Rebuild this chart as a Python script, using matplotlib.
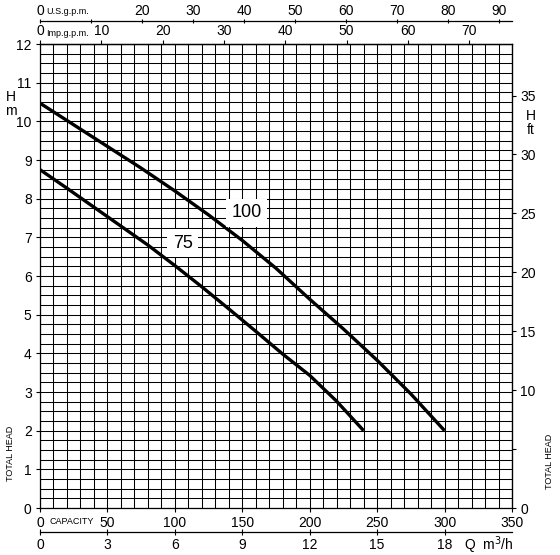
import numpy as np
import matplotlib
matplotlib.use("Agg")
import matplotlib.pyplot as plt
import matplotlib.transforms as mtransforms

plt.rcParams['font.family'] = ['Liberation Sans', 'DejaVu Sans']

# capacity in l/min, head in m
q_100 = [0, 25, 50, 75, 100, 125, 150, 175, 200, 225, 250, 275, 300]
h_100 = [10.47, 9.91, 9.35, 8.79, 8.20, 7.58, 6.92, 6.20, 5.40, 4.63, 3.82, 2.95, 2.0]
q_75 = [0, 20, 40, 60, 80, 100, 120, 140, 160, 180, 200, 220, 240]
h_75 = [8.75, 8.27, 7.78, 7.29, 6.80, 6.27, 5.72, 5.15, 4.57, 3.98, 3.43, 2.76, 2.0]
curve_names = ["100", "75"]
label_pos = [(153, 7.63), (106, 6.85)]

lmin_ticks = [0, 50, 100, 150, 200, 250, 300, 350]
m3h_ticks = [0, 3, 6, 9, 12, 15, 18]
usgpm_ticks = [0, 10, 20, 30, 40, 50, 60, 70, 80, 90]
impgpm_ticks = [0, 10, 20, 30, 40, 50, 60, 70]
ft_ticks = [0, 5, 10, 15, 20, 25, 30, 35]

FS = 10

fig = plt.figure(figsize=(5.6, 5.55), dpi=100)
ax = fig.add_axes([40 / 560, 47 / 555, 472 / 560, 464 / 555])

ax.set_xlim(0, 350)
ax.set_ylim(0, 12)

# grid
ax.set_xticks(np.arange(0, 351, 10), minor=True)
ax.set_yticks(np.arange(0, 12.01, 0.25), minor=True)
ax.set_xticks(lmin_ticks)
ax.set_yticks(range(13))
ax.grid(which='both', color='black', linewidth=0.75)
ax.set_axisbelow(True)
ax.tick_params(which='minor', length=0)
ax.tick_params(which='major', length=3, width=0.8, labelsize=FS, pad=3)
for s in ax.spines.values():
    s.set_linewidth(0.9)

# curves
ax.plot(q_100, h_100, color='black', lw=2.4, solid_capstyle='butt')
ax.plot(q_75, h_75, color='black', lw=2.4, solid_capstyle='butt')
for name, (x, y) in zip(curve_names, label_pos):
    ax.text(x, y, name, fontsize=13, ha='center', va='center',
            bbox=dict(facecolor='white', edgecolor='none', pad=4))

ax.set_xticklabels([str(t) for t in lmin_ticks])

# top: imperial gpm on spine, US gpm above
imp = ax.secondary_xaxis('top', functions=(lambda q: q / 4.54609, lambda g: g * 4.54609))
imp.set_xticks(impgpm_ticks)
imp.tick_params(length=3, width=0.8, labelsize=FS, pad=1)
imp.spines['top'].set_linewidth(0.9)

us = ax.secondary_xaxis(1.049, functions=(lambda q: q / 3.78541, lambda g: g * 3.78541))
us.set_xticks(usgpm_ticks)
us.set_xticklabels(['0', ''] + [str(t) for t in usgpm_ticks[2:]])
us.tick_params(length=3, width=0.8, labelsize=FS, pad=1, direction='inout')
us.spines['top'].set_linewidth(0.9)

# bottom: m3/h
m3 = ax.secondary_xaxis(-0.052, functions=(lambda q: q * 0.06, lambda m: m / 0.06))
m3.set_xticks(m3h_ticks)
m3.tick_params(length=4, width=0.8, labelsize=FS, pad=2, direction='inout')
m3.spines['bottom'].set_linewidth(0.9)

# right: feet
ft = ax.secondary_yaxis('right', functions=(lambda h: h * 3.28084, lambda f: f / 3.28084))
ft.set_yticks(ft_ticks)
ft.set_yticklabels(['0', ''] + [str(t) for t in ft_ticks[2:]])
ft.tick_params(length=3, width=0.8, labelsize=FS, pad=3)

# small captions
tr = mtransforms.blended_transform_factory(ax.transData, fig.transFigure)
ax.text(4.5, 1 - 12 / 555, "U.S.g.p.m.", transform=tr, fontsize=6.5, va='center', ha='left')
ax.text(4.5, 1 - 33 / 555, "Imp.g.p.m.", transform=tr, fontsize=6.5, va='center', ha='left')
ax.text(7, 1 - 521 / 555, "CAPACITY", transform=tr, fontsize=6.5, va='center', ha='left')
ax.text(333, 1 - 545 / 555, "Q  m$^3$/h", transform=tr, fontsize=FS, va='center', ha='center')

tr2 = mtransforms.blended_transform_factory(fig.transFigure, ax.transData)
ax.text(11 / 560, 10.45, "H\nm", transform=tr2, fontsize=FS, ha='center', va='center',
        linespacing=1.0)
ax.text(11 / 560, 1.4, "TOTAL HEAD", transform=tr2, fontsize=6.5, rotation=90,
        ha='center', va='center')
ax.text(531 / 560, 9.95, "H\nft", transform=tr2, fontsize=FS, ha='center', va='center',
        linespacing=1.0)
ax.text(549 / 560, 1.2, "TOTAL HEAD", transform=tr2, fontsize=6.5, rotation=90,
        ha='center', va='center')

fig.savefig("out.png", dpi=100)
